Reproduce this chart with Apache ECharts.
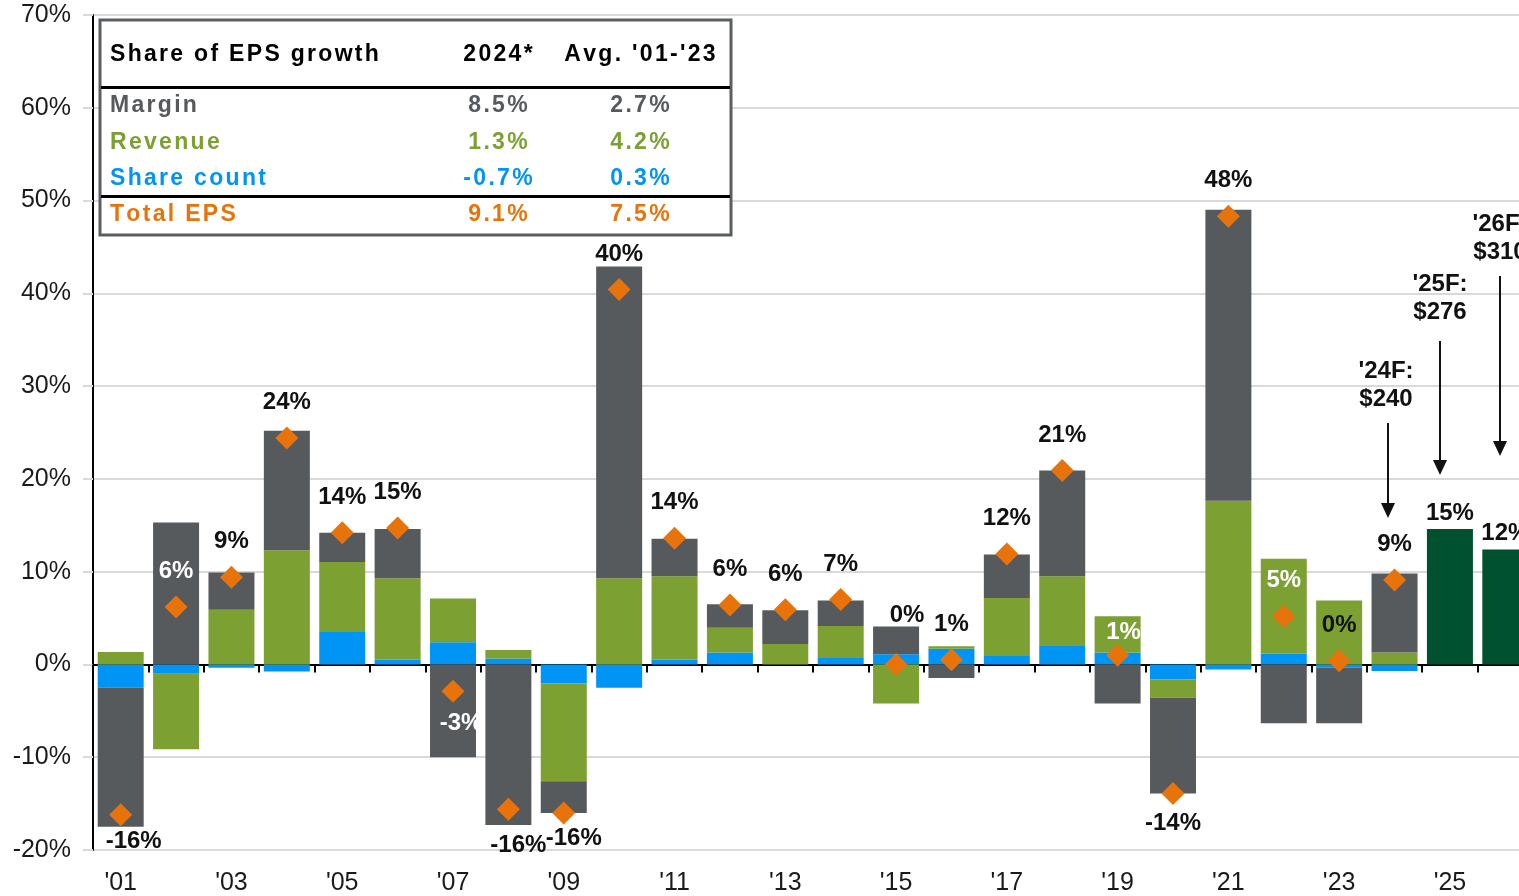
<!DOCTYPE html>
<html>
<head>
<meta charset="utf-8">
<script src="https://cdn.jsdelivr.net/npm/echarts@6/dist/echarts.min.js"></script>
<style>
  html, body { margin: 0; padding: 0; background: #fff; overflow: hidden; }
  /* the plot runs past the right edge of the picture, so the chart is wider than the window */
  #main { width: 1533px; height: 896px; }
</style>
</head>
<body>
<div id="main"></div>
<script>
// years on the x axis
var years = ["'01", "'02", "'03", "'04", "'05", "'06", "'07", "'08", "'09", "'10", "'11", "'12", "'13",
             "'14", "'15", "'16", "'17", "'18", "'19", "'20", "'21", "'22", "'23", "'24", "'25", "'26"];
// contributions to EPS growth, % (stacked)
var shareCount = [-2.5, -1.0, -0.35, -0.75, 3.5, 0.5, 2.4, 0.65, -2.05, -2.5, 0.5, 1.3, 0, 0.7, 1.1, 1.7,
                  0.9, 2.0, 1.3, -1.6, -0.55, 1.15, -0.35, -0.7, null, null];
var revenue = [1.33, -8.15, 5.9, 12.3, 7.55, 8.8, 4.7, 0.9, -10.55, 9.3, 9.0, 2.65, 2.2, 3.45, -4.2, 0.25,
               6.25, 7.5, 3.9, -2.0, 17.65, 10.25, 6.9, 1.3, null, null];
var margin = [-15.0, 15.3, 4.0, 12.9, 3.15, 5.3, -10.0, -17.3, -3.4, 33.6, 4.05, 2.55, 3.65, 2.75, 3.0, -1.45,
              4.7, 11.4, -4.2, -10.3, 31.35, -6.35, -6.0, 8.5, null, null];
// forecast EPS growth
var forecast = [null, null, null, null, null, null, null, null, null, null, null, null, null,
                null, null, null, null, null, null, null, null, null, null, null, 14.6, 12.4];
// total EPS growth (diamonds)
var totalEps = [-16.2, 6.2, 9.4, 24.4, 14.2, 14.7, -2.9, -15.6, -16.0, 40.4, 13.6, 6.4, 5.9, 7.0, 0.0, 0.5,
                11.9, 20.9, 1.0, -13.9, 48.3, 5.2, 0.4, 9.1, null, null];

// table in the corner
var tableHead = ['Share of EPS growth', '2024*', "Avg. '01-'23"];
var tableRows = ['Margin', 'Revenue', 'Share count', 'Total EPS'];
var table2024 = ['8.5%', '1.3%', '-0.7%', '9.1%'];
var tableAvg = ['2.7%', '4.2%', '0.3%', '7.5%'];

// forecast notes
var notes = [["'24F:", '$240'], ["'25F:", '$276'], ["'26F:", '$310']];

var C_GRAY = '#575A5D', C_GREEN = '#7CA032', C_BLUE = '#0094F5', C_ORANGE = '#E8730A', C_DKGREEN = '#00512F';
var FONT = '"Liberation Sans", Arial, sans-serif';

// label tweaks for the diamonds (some sit inside the bars)
var labelTweaks = {
    "'01": { distance: 3, offset: [13, 0] },
    "'02": { color: '#fff' },
    "'07": { color: '#fff', distance: 9, offset: [8, 0] },
    "'08": { distance: 13, offset: [10, 0] },
    "'09": { distance: 2, offset: [10, 0] },
    "'15": { distance: 26, offset: [11, 0] },
    "'19": { color: '#fff', distance: -1, offset: [6, 0] },
    "'20": { distance: 6 },
    "'22": { color: '#fff' }
};

var diamondData = totalEps.map(function (v, i) {
    if (v === null) return null;
    var lab = { position: v >= 0 ? 'top' : 'bottom', distance: v >= 0 ? 12 : 6 };
    var t = labelTweaks[years[i]];
    if (t) { for (var k in t) lab[k] = t[k]; }
    return { value: v, label: lab };
});

var myChart = echarts.init(document.getElementById('main'));

// table text is letter-spaced, so lay out each character
var TFONT = 'bold 23px "Liberation Sans", Arial, sans-serif';
var SPACING = 2.3;
var measureCtx = document.createElement('canvas').getContext('2d');
measureCtx.font = TFONT;
function spacedText(str, x, y, align, color) {
    var chars = str.split('');
    var widths = chars.map(function (c) { return measureCtx.measureText(c).width; });
    var total = widths.reduce(function (a, b) { return a + b; }, 0) + SPACING * (chars.length - 1);
    var cx = align === 'center' ? x - total / 2 : x;
    var out = [];
    chars.forEach(function (c, i) {
        if (c !== ' ') {
            out.push({ type: 'text', z: 102, style: { x: cx, y: y, text: c, font: TFONT, fill: color,
                align: 'left', verticalAlign: 'middle' } });
        }
        cx += widths[i] + SPACING;
    });
    return out;
}

var gfx = [];
gfx.push({ type: 'rect', shape: { x: 100, y: 20, width: 631, height: 215 },
    style: { fill: '#fff', stroke: '#5B5E61', lineWidth: 3 }, z: 100 });
gfx.push({ type: 'line', shape: { x1: 101, y1: 87.5, x2: 730, y2: 87.5 }, style: { stroke: '#000', lineWidth: 3 }, z: 101 });
gfx.push({ type: 'line', shape: { x1: 101, y1: 196.5, x2: 730, y2: 196.5 }, style: { stroke: '#000', lineWidth: 3 }, z: 101 });
var colX = [110, 498, 640], colAlign = ['left', 'center', 'center'];
tableHead.forEach(function (h, i) {
    gfx = gfx.concat(spacedText(h, colX[i], 55, colAlign[i], '#000'));
});
var rowY = [106, 143, 179, 215], rowColor = [C_GRAY, C_GREEN, C_BLUE, C_ORANGE];
tableRows.forEach(function (r, i) {
    gfx = gfx.concat(spacedText(r, colX[0], rowY[i], 'left', rowColor[i]));
    gfx = gfx.concat(spacedText(table2024[i], colX[1], rowY[i], 'center', rowColor[i]));
    gfx = gfx.concat(spacedText(tableAvg[i], colX[2], rowY[i], 'center', rowColor[i]));
});

// forecast arrows + notes
var noteX = [1386, 1440, 1500], noteY = [371, 284, 224];
var arrowX = [1388, 1440, 1500], arrowTop = [423, 341, 276], arrowEnd = [518, 475, 456];
notes.forEach(function (n, i) {
    var st = { font: 'bold 24px ' + FONT, fill: '#111', align: 'center', verticalAlign: 'middle' };
    gfx.push({ type: 'text', z: 50, style: Object.assign({ x: noteX[i], y: noteY[i], text: n[0] }, st) });
    gfx.push({ type: 'text', z: 50, style: Object.assign({ x: noteX[i], y: noteY[i] + 28, text: n[1] }, st) });
    gfx.push({ type: 'line', z: 50, shape: { x1: arrowX[i], y1: arrowTop[i], x2: arrowX[i], y2: arrowEnd[i] - 14 },
        style: { stroke: '#111', lineWidth: 2 } });
    gfx.push({ type: 'polygon', z: 50, shape: { points: [[arrowX[i] - 7, arrowEnd[i] - 15], [arrowX[i] + 7, arrowEnd[i] - 15], [arrowX[i], arrowEnd[i]]] },
        style: { fill: '#111' } });
});

var option = {
    animation: false,
    backgroundColor: '#fff',
    textStyle: { fontFamily: FONT },
    grid: { left: 93, top: 15, bottom: 45, right: 0, containLabel: false },
    xAxis: [
        {
            type: 'category', data: years, position: 'bottom',
            axisLine: { show: false, onZero: false }, axisTick: { show: false },
            axisLabel: { interval: 1, fontSize: 25, color: '#1a1a1a', margin: 21, fontFamily: FONT }
        },
        {
            type: 'category', data: years, position: 'top',
            axisLine: { show: true, onZero: true, lineStyle: { color: '#000', width: 2 } },
            axisTick: { show: true, inside: true, length: 8, lineStyle: { color: '#000', width: 2 } },
            axisLabel: { show: false }
        }
    ],
    yAxis: {
        type: 'value', min: -20, max: 70, interval: 10,
        axisLine: { show: true, onZero: false, lineStyle: { color: '#000', width: 2 } },
        axisTick: { show: true, length: 10, lineStyle: { color: '#D9D9D9', width: 2 } },
        splitLine: { lineStyle: { color: '#D9D9D9', width: 2 } },
        axisLabel: { formatter: '{value}%', fontSize: 25, color: '#1a1a1a', margin: 22, fontFamily: FONT }
    },
    series: [
        { name: 'Share count', type: 'bar', stack: 'eps', barWidth: 46, data: shareCount,
          itemStyle: { color: C_BLUE } },
        { name: 'Revenue', type: 'bar', stack: 'eps', barWidth: 46, data: revenue,
          itemStyle: { color: C_GREEN } },
        { name: 'Margin', type: 'bar', stack: 'eps', barWidth: 46, data: margin,
          itemStyle: { color: C_GRAY } },
        { name: 'Forecast', type: 'bar', stack: 'eps', barWidth: 46, data: forecast,
          itemStyle: { color: C_DKGREEN },
          label: { show: true, position: 'top', distance: 4, fontSize: 24, fontWeight: 'bold', color: '#111',
                   fontFamily: FONT, formatter: function (p) { return Math.round(p.value) + '%'; } } },
        { name: 'Total EPS', type: 'scatter', symbol: 'diamond', symbolSize: 23, data: diamondData, z: 5,
          itemStyle: { color: C_ORANGE, opacity: 1 },
          label: { show: true, fontSize: 24, fontWeight: 'bold', color: '#111', fontFamily: FONT,
                   formatter: function (p) { return Math.round(p.value) + '%'; } } }
    ],
    graphic: gfx
};

myChart.setOption(option);
window.addEventListener('resize', function () { myChart.resize(); });
</script>
</body>
</html>
